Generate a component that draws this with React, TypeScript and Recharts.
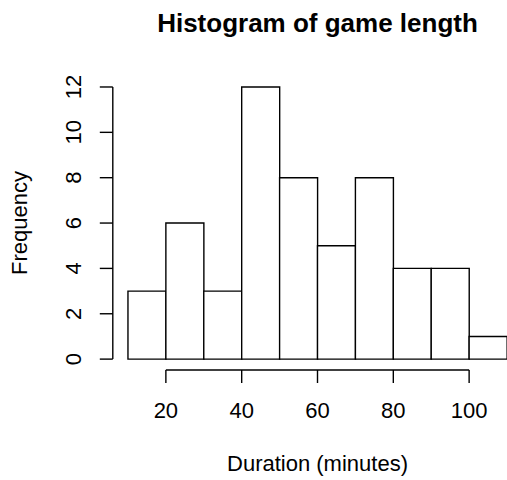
import React from "react";
import { ComposedChart, Bar, XAxis, YAxis, ReferenceLine, Label } from "recharts";

// histogram of game durations, bins of 10 minutes (bars sit on bin midpoints)
const binMids = [15, 25, 35, 45, 55, 65, 75, 85, 95, 105];
const counts = [3, 6, 3, 12, 8, 5, 8, 4, 4, 1];
const xTicks = [20, 40, 60, 80, 100];
const yTicks = [0, 2, 4, 6, 8, 10, 12];

const data = binMids.map((mid, i) => ({ mid, count: counts[i] }));

const font = '"Liberation Sans", Arial, Helvetica, sans-serif';
const lineW = 1.4;

function YTick(props: any) {
  const { x, y, payload } = props;
  const tx = x - 19;
  return (
    <text
      x={tx}
      y={y}
      transform={`rotate(-90 ${tx} ${y})`}
      textAnchor="middle"
      fontFamily={font}
      fontSize={22}
      fill="#000"
    >
      {payload.value}
    </text>
  );
}

export default function App() {
  return (
    <div
      style={{
        position: "absolute",
        left: 0,
        top: 0,
        width: 507,
        height: 480,
        overflow: "hidden",
        background: "#fff",
      }}
    >
      <div
        style={{
          position: "absolute",
          left: 0,
          top: 10,
          width: 635,
          textAlign: "center",
          fontFamily: font,
          fontWeight: "bold",
          fontSize: 26,
          lineHeight: "26px",
          color: "#000",
          whiteSpace: "nowrap",
        }}
      >
        Histogram of game length
      </div>
      <ComposedChart
        width={560}
        height={480}
        data={data}
        margin={{ top: 76.1, right: 37.8, bottom: 0, left: 0 }}
        barCategoryGap={0}
        barGap={0}
      >
        <XAxis
          dataKey="mid"
          type="number"
          domain={[6, 114]}
          allowDataOverflow
          ticks={xTicks}
          interval={0}
          height={110}
          axisLine={false}
          tickSize={13}
          tickMargin={19}
          tickLine={{ stroke: "#000", strokeWidth: lineW }}
          tick={{ fontSize: 22, fill: "#000", fontFamily: font }}
        >
          <Label
            content={() => (
              <text x={317.5} y={471} textAnchor="middle" fontFamily={font} fontSize={22} fill="#000">
                Duration (minutes)
              </text>
            )}
          />
        </XAxis>
        <YAxis
          type="number"
          domain={[-0.48, 12.48]}
          allowDataOverflow
          ticks={yTicks}
          interval={0}
          width={112.8}
          axisLine={false}
          tickSize={13}
          tickMargin={0}
          tickLine={{ stroke: "#000", strokeWidth: lineW }}
          tick={<YTick />}
        >
          <Label
            content={() => (
              <text
                x={27}
                y={223}
                transform="rotate(-90 27 223)"
                textAnchor="middle"
                fontFamily={font}
                fontSize={22}
                fill="#000"
              >
                Frequency
              </text>
            )}
          />
        </YAxis>
        <Bar
          dataKey="count"
          fill="#fff"
          stroke="#000"
          strokeWidth={lineW}
          isAnimationActive={false}
        />
        <ReferenceLine
          segment={[
            { x: xTicks[0], y: -0.48 },
            { x: xTicks[xTicks.length - 1], y: -0.48 },
          ]}
          stroke="#000"
          strokeWidth={lineW}
          ifOverflow="visible"
        />
        <ReferenceLine
          segment={[
            { x: 6, y: yTicks[0] },
            { x: 6, y: yTicks[yTicks.length - 1] },
          ]}
          stroke="#000"
          strokeWidth={lineW}
          ifOverflow="visible"
        />
      </ComposedChart>
    </div>
  );
}
